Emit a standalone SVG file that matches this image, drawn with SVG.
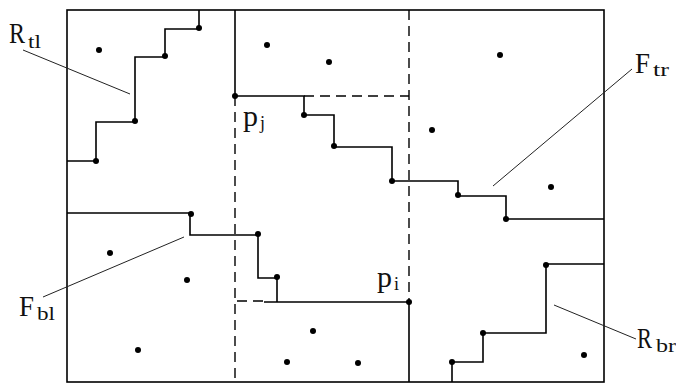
<svg xmlns="http://www.w3.org/2000/svg" width="676" height="384" viewBox="0 0 676 384">
<style>
.ln{fill:none;stroke:#000;stroke-width:1.6}
.ds{fill:none;stroke:#000;stroke-width:1.4;stroke-dasharray:10 6}
.ld{fill:none;stroke:#222;stroke-width:1}
.dt{fill:#000}
.lb{font-family:'Liberation Serif','Times New Roman',serif;fill:#111}
.m{font-size:30px}
.s{font-size:18px}
</style>
<rect width="676" height="384" fill="#fff"/>
<g id="connectors">
<rect x="67" y="10" width="537" height="372" class="ln" stroke-width="1.8"/>
<path class="ln" d="M67,161 H96 V122 H135 V57 H165 V29 H199 V10"/>
<path class="ln" d="M235,10 V96"/>
<path class="ln" d="M235,96 H304 V115 H334 V147 H392 V181 H458 V196 H506 V219 H604"/>
<path class="ln" d="M67,213 H190 V235 H258 V278 H277 V302"/>
<path class="ln" d="M264,302 H409 V382"/>
<path class="ln" d="M604,264 H546 V333 H483 V362 H452 V382"/>
<path class="ds" d="M304,96 H409"/>
<path class="ds" d="M409,10 V302"/>
<path class="ds" d="M235,96 V382"/>
<path class="ds" d="M237,301 H264" stroke-dasharray="7 5"/>
<path class="ld" d="M23,50 L130,94"/>
<path class="ld" d="M632,69 L493,186"/>
<path class="ld" d="M43,297 L184,237"/>
<path class="ld" d="M554,305 L636,339"/>
</g>
<g id="dots">
<circle class="dt" cx="96" cy="161" r="3"/>
<circle class="dt" cx="135" cy="121" r="3"/>
<circle class="dt" cx="165" cy="56" r="3"/>
<circle class="dt" cx="199" cy="28" r="3"/>
<circle class="dt" cx="235" cy="96" r="3"/>
<circle class="dt" cx="304" cy="115" r="3"/>
<circle class="dt" cx="334" cy="146" r="3"/>
<circle class="dt" cx="392" cy="181" r="3"/>
<circle class="dt" cx="458" cy="195" r="3"/>
<circle class="dt" cx="506" cy="219" r="3"/>
<circle class="dt" cx="191" cy="214" r="3"/>
<circle class="dt" cx="258" cy="234" r="3"/>
<circle class="dt" cx="277" cy="277" r="3"/>
<circle class="dt" cx="409" cy="302" r="3"/>
<circle class="dt" cx="546" cy="265" r="3"/>
<circle class="dt" cx="483" cy="333" r="3"/>
<circle class="dt" cx="452" cy="362" r="3"/>
<circle class="dt" cx="99" cy="50" r="3"/>
<circle class="dt" cx="267" cy="45" r="3"/>
<circle class="dt" cx="329" cy="62" r="3"/>
<circle class="dt" cx="500" cy="55" r="3"/>
<circle class="dt" cx="432" cy="130" r="3"/>
<circle class="dt" cx="551" cy="187" r="3"/>
<circle class="dt" cx="110" cy="253" r="3"/>
<circle class="dt" cx="187" cy="280" r="3"/>
<circle class="dt" cx="138" cy="350" r="3"/>
<circle class="dt" cx="313" cy="331" r="3"/>
<circle class="dt" cx="287" cy="362" r="3"/>
<circle class="dt" cx="358" cy="363" r="3"/>
<circle class="dt" cx="584" cy="355" r="3"/>
</g>
<g id="label-Rtl">
<text class="lb m" x="9" y="43" textLength="16" lengthAdjust="spacingAndGlyphs">R</text>
<text class="lb s" x="28" y="48" textLength="13" lengthAdjust="spacingAndGlyphs">tl</text>
</g>
<g id="label-Ftr">
<text class="lb m" x="635" y="73" textLength="15" lengthAdjust="spacingAndGlyphs">F</text>
<text class="lb s" x="653" y="76" textLength="16" lengthAdjust="spacingAndGlyphs">tr</text>
</g>
<g id="label-Fbl">
<text class="lb m" x="19" y="316" textLength="15" lengthAdjust="spacingAndGlyphs">F</text>
<text class="lb s" x="37" y="320" textLength="18" lengthAdjust="spacingAndGlyphs">bl</text>
</g>
<g id="label-Rbr">
<text class="lb m" x="637" y="348" textLength="15" lengthAdjust="spacingAndGlyphs">R</text>
<text class="lb s" x="656" y="352" textLength="20" lengthAdjust="spacingAndGlyphs">br</text>
</g>
<g id="label-pj">
<text class="lb m" x="243" y="126" textLength="15" lengthAdjust="spacingAndGlyphs">p</text>
<text class="lb s" x="260" y="129">j</text>
</g>
<g id="label-pi">
<text class="lb m" x="377" y="287" textLength="15" lengthAdjust="spacingAndGlyphs">p</text>
<text class="lb s" x="394" y="290">i</text>
</g>
</svg>
